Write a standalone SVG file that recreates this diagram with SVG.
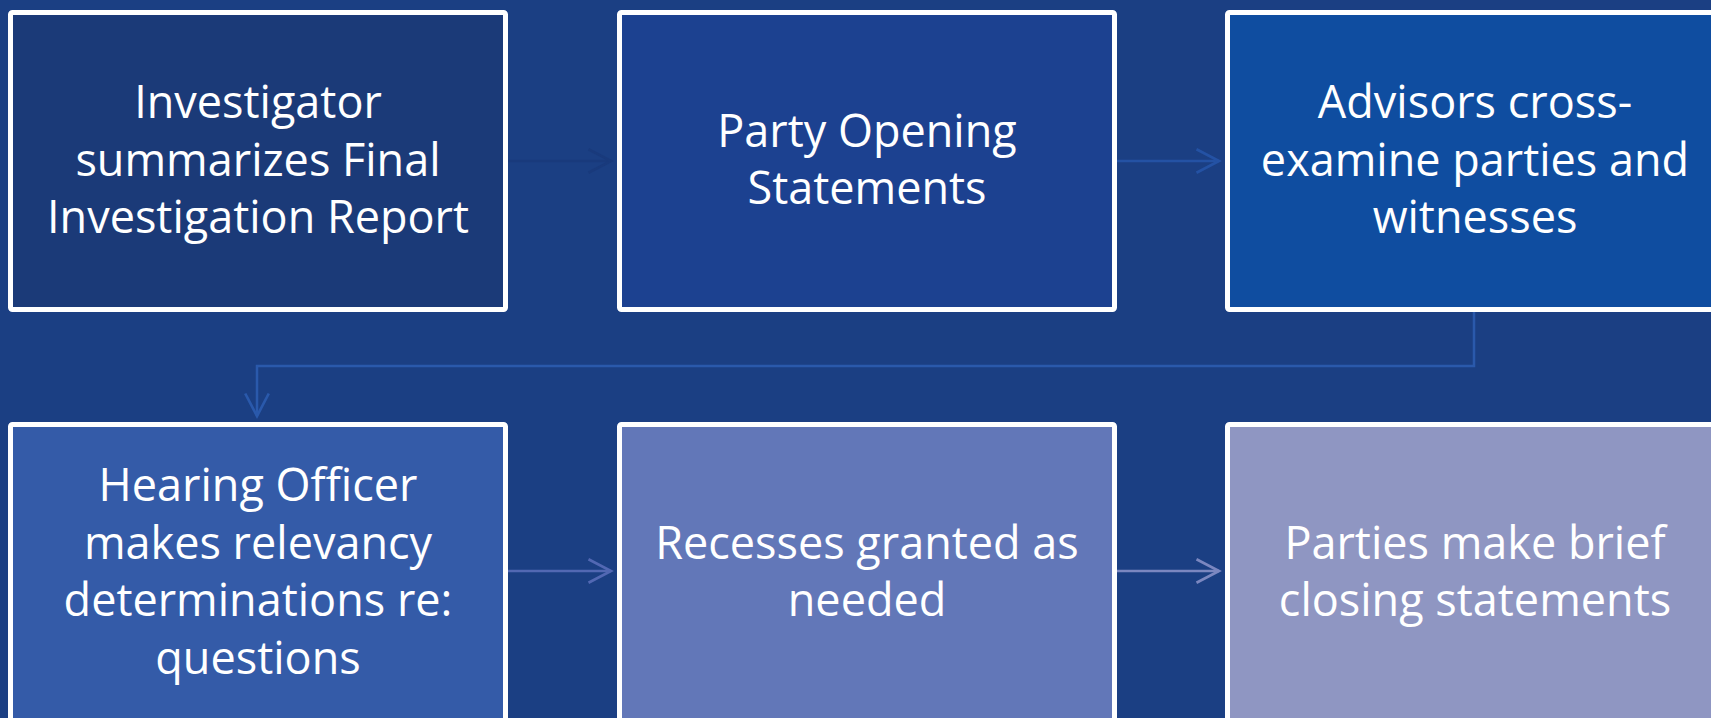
<svg xmlns="http://www.w3.org/2000/svg" width="1711" height="718" viewBox="0 0 1711 718">
<style>
.box{stroke:#ffffff;stroke-width:5}
.t{font-family:"Open Sans","Liberation Sans",sans-serif;font-size:45px;fill:#ffffff;text-anchor:middle}
.c{fill:none;stroke-width:2.5}
</style>
<defs>
<marker id="a1" markerUnits="userSpaceOnUse" markerWidth="30" markerHeight="30" viewBox="-24 -14 28 28" refX="0" refY="0" orient="auto"><path d="M-21,-11 L0,0 L-21,11" fill="none" stroke="#193a7c" stroke-width="2.5"/></marker>
<marker id="a2" markerUnits="userSpaceOnUse" markerWidth="30" markerHeight="30" viewBox="-24 -14 28 28" refX="0" refY="0" orient="auto"><path d="M-21,-11 L0,0 L-21,11" fill="none" stroke="#2452a4" stroke-width="2.5"/></marker>
<marker id="a3" markerUnits="userSpaceOnUse" markerWidth="30" markerHeight="30" viewBox="-24 -14 28 28" refX="0" refY="0" orient="auto"><path d="M-21,-11 L0,0 L-21,11" fill="none" stroke="#2a59ab" stroke-width="2.5"/></marker>
<marker id="a4" markerUnits="userSpaceOnUse" markerWidth="30" markerHeight="30" viewBox="-24 -14 28 28" refX="0" refY="0" orient="auto"><path d="M-21,-11 L0,0 L-21,11" fill="none" stroke="#5268b3" stroke-width="2.5"/></marker>
<marker id="a5" markerUnits="userSpaceOnUse" markerWidth="30" markerHeight="30" viewBox="-24 -14 28 28" refX="0" refY="0" orient="auto"><path d="M-21,-11 L0,0 L-21,11" fill="none" stroke="#7b87c0" stroke-width="2.5"/></marker>
</defs>
<rect x="0" y="0" width="1711" height="718" fill="#1b3f83"/>
<g id="connectors">
<line class="c" x1="508" y1="161" x2="611" y2="161" stroke="#193a7c" marker-end="url(#a1)"/>
<line class="c" x1="1117" y1="161" x2="1219" y2="161" stroke="#2452a4" marker-end="url(#a2)"/>
<polyline class="c" points="1474,312 1474,366 257,366 257,416" stroke="#2a59ab" marker-end="url(#a3)"/>
<line class="c" x1="508" y1="571" x2="611" y2="571" stroke="#5268b3" marker-end="url(#a4)"/>
<line class="c" x1="1117" y1="571" x2="1219" y2="571" stroke="#7b87c0" marker-end="url(#a5)"/>
</g>
<g id="node1">
<rect class="box" x="10.5" y="12.5" width="495" height="297" rx="2" fill="#1b3a78"/>
<text class="t" x="258" y="118">Investigator</text>
<text class="t" x="258" y="175.5">summarizes Final</text>
<text class="t" x="258" y="233">Investigation Report</text>
</g>
<g id="node2">
<rect class="box" x="619.5" y="12.5" width="495" height="297" rx="2" fill="#1c4190"/>
<text class="t" x="867" y="146.5">Party Opening</text>
<text class="t" x="867" y="204">Statements</text>
</g>
<g id="node3">
<rect class="box" x="1227.5" y="12.5" width="495" height="297" rx="2" fill="#0f4da0"/>
<text class="t" x="1475" y="118">Advisors cross-</text>
<text class="t" x="1475" y="175.5">examine parties and</text>
<text class="t" x="1475" y="233">witnesses</text>
</g>
<g id="node4">
<rect class="box" x="10.5" y="424.5" width="495" height="297" rx="2" fill="#345ba8"/>
<text class="t" x="258" y="501">Hearing Officer</text>
<text class="t" x="258" y="558.5">makes relevancy</text>
<text class="t" x="258" y="616">determinations re:</text>
<text class="t" x="258" y="673.5">questions</text>
</g>
<g id="node5">
<rect class="box" x="619.5" y="424.5" width="495" height="297" rx="2" fill="#6277b8"/>
<text class="t" x="867" y="558.5">Recesses granted as</text>
<text class="t" x="867" y="616">needed</text>
</g>
<g id="node6">
<rect class="box" x="1227.5" y="424.5" width="495" height="297" rx="2" fill="#8f96c2"/>
<text class="t" x="1475" y="558.5">Parties make brief</text>
<text class="t" x="1475" y="616">closing statements</text>
</g>
</svg>
